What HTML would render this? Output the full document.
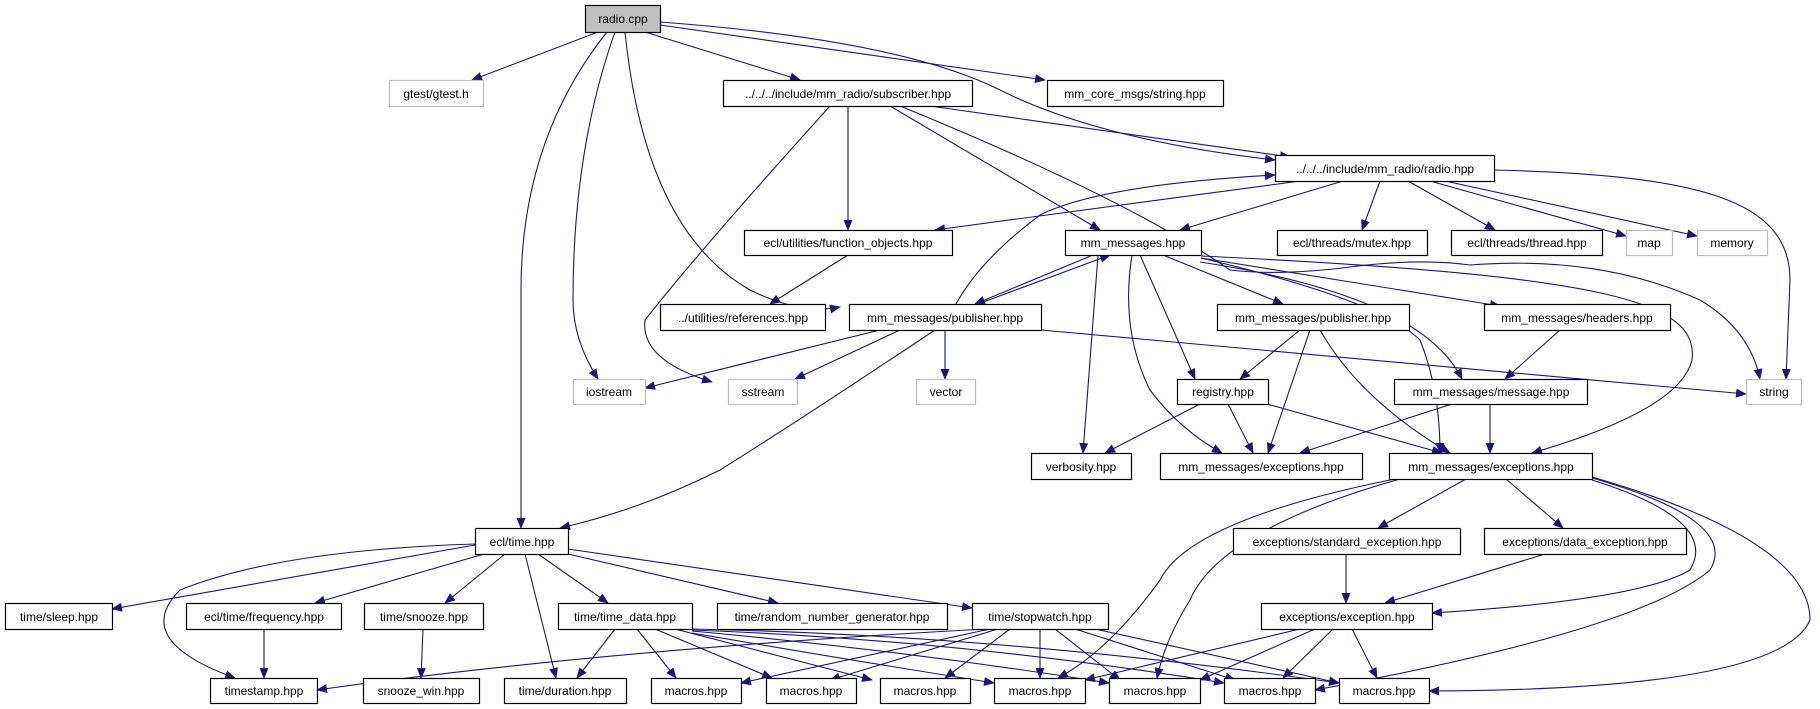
<!DOCTYPE html>
<html><head><meta charset="utf-8"><style>
html,body{margin:0;padding:0;background:#fff;}
svg{display:block;}
text{font-family:"Liberation Sans",Arial,sans-serif;font-size:12px;fill:#000;}
</style></head><body>
<svg width="1820" height="709" viewBox="0 0 1820 709" xmlns="http://www.w3.org/2000/svg">
<defs>
<marker id="a" markerWidth="11" markerHeight="9" refX="10" refY="4.5" orient="auto" markerUnits="userSpaceOnUse">
<path d="M0,0 L11,4.5 L0,9 z" fill="#191970"/>
</marker>
</defs>
<g fill="none" stroke="#191970" stroke-width="1.1" marker-end="url(#a)">
<!-- radio.cpp -->
<path d="M598,32 L472,80"/>
<path d="M645,32 L800,80"/>
<path d="M660,25 L1045,80"/>
<path d="M660,22 Q900,40 1000,90 Q1100,140 1275,160"/>
<path d="M607,32 Q521,140 521,290 L521,528"/>
<path d="M615,32 Q573,150 573,300 Q573,340 598,379"/>
<path d="M625,32 Q645,230 750,290 Q800,315 840,307"/>
<!-- subscriber -->
<path d="M848,106 L848,230"/>
<path d="M890,106 L1100,230"/>
<path d="M930,106 L1290,157"/>
<path d="M830,106 Q700,250 645,320 Q640,360 712,382"/>
<path d="M900,106 Q1130,200 1230,270 Q1280,276 1350,267 Q1420,258 1470,265 Q1600,255 1700,300 Q1750,330 1760,379"/>
<!-- radio.hpp -->
<path d="M1300,181 L935,230"/>
<path d="M1343,181 L1180,230"/>
<path d="M1380,181 L1362,230"/>
<path d="M1408,181 L1495,230"/>
<path d="M1430,181 L1626,236"/>
<path d="M1445,181 L1697,236"/>
<path d="M1494,170 C1700,175 1790,200 1790,280 L1786,379"/>
<!-- publisher left -->
<path d="M956,304 Q980,260 1040,215 Q1100,185 1275,175"/>
<path d="M978,304 L1110,255"/>
<path d="M1093,255 L975,304"/>
<path d="M880,330 L645,388"/>
<path d="M900,330 L795,379"/>
<path d="M945,330 L945,379"/>
<path d="M1041,330 L1746,394"/>
<path d="M935,330 Q800,420 720,470 Q640,510 560,528"/>
<path d="M848,255 L770,304"/>
<!-- mm_messages.hpp -->
<path d="M1098,255 L1083,453"/>
<path d="M1132,255 Q1120,330 1150,390 Q1180,430 1222,453"/>
<path d="M1140,255 L1195,379"/>
<path d="M1163,255 L1283,304"/>
<path d="M1201,258 L1500,306"/>
<path d="M1200,262 Q1420,295 1462,379"/>
<path d="M1201,258 Q1380,300 1420,340 Q1440,390 1440,453"/>
<path d="M1201,256 C1600,275 1700,300 1692,360 Q1680,410 1532,453"/>
<!-- publisher right -->
<path d="M1300,330 L1240,379"/>
<path d="M1310,330 L1268,453"/>
<path d="M1320,330 Q1360,400 1450,453"/>
<!-- registry -->
<path d="M1200,404 L1105,453"/>
<path d="M1228,404 L1253,453"/>
<path d="M1267,404 L1442,453"/>
<!-- message -->
<path d="M1452,404 L1300,453"/>
<path d="M1490,404 L1490,453"/>
<path d="M1560,330 L1505,379"/>
<!-- exceptions2 -->
<path d="M1466,479 L1378,528"/>
<path d="M1506,479 L1563,528"/>
<path d="M1592,480 Q1720,520 1690,570 Q1640,600 1432,613"/>
<path d="M1592,478 Q1740,520 1710,570 Q1640,630 1315,690"/>
<path d="M1592,477 Q1810,540 1810,620 Q1780,690 1429,691"/>
<path d="M1395,479 Q1190,520 1160,580 Q1110,650 1058,678"/>
<path d="M1400,479 Q1220,530 1190,600 Q1165,640 1157,678"/>
<!-- exception chain -->
<path d="M1346,554 L1346,603"/>
<path d="M1545,554 L1385,603"/>
<path d="M1300,629 L1085,680"/>
<path d="M1315,629 L1200,680"/>
<path d="M1333,629 L1283,678"/>
<path d="M1352,629 L1377,678"/>
<!-- ecl/time -->
<path d="M475,545 L112,609"/>
<path d="M484,554 L315,603"/>
<path d="M505,554 L445,603"/>
<path d="M538,554 L608,603"/>
<path d="M568,554 L778,603"/>
<path d="M568,549 L972,608"/>
<path d="M475,544 Q280,550 180,590 Q130,640 235,678"/>
<path d="M525,554 L556,678"/>
<path d="M264,629 L264,678"/>
<path d="M423,629 L421,678"/>
<!-- time_data -->
<path d="M615,629 L577,678"/>
<path d="M637,629 L676,678"/>
<path d="M655,629 L772,678"/>
<path d="M675,629 L872,680"/>
<path d="M692,633 Q850,660 994,683"/>
<path d="M692,631 Q900,650 1109,683"/>
<path d="M692,630 Q960,640 1224,683"/>
<path d="M692,629 Q1000,635 1339,683"/>
<!-- stopwatch -->
<path d="M985,629 Q600,650 317,690"/>
<path d="M990,629 L741,683"/>
<path d="M998,629 L830,680"/>
<path d="M1010,629 L945,678"/>
<path d="M1040,629 L1040,678"/>
<path d="M1055,629 L1120,680"/>
<path d="M1075,629 L1235,680"/>
<path d="M1095,629 L1339,683"/>
</g>
<g stroke-width="1.2">
<rect x="585.5" y="5.5" width="75" height="27" fill="#bfbfbf" stroke="#000"/>
<rect x="389.5" y="80.5" width="94" height="26" fill="#fff" stroke="#bfbfbf"/>
<rect x="723.5" y="80.5" width="249" height="26" fill="#fff" stroke="#000"/>
<rect x="1047.5" y="80.5" width="176" height="26" fill="#fff" stroke="#000"/>
<rect x="1275.5" y="155.5" width="219" height="26" fill="#fff" stroke="#000"/>
<rect x="744.5" y="230.5" width="208" height="25" fill="#fff" stroke="#000"/>
<rect x="1065.5" y="230.5" width="136" height="25" fill="#fff" stroke="#000"/>
<rect x="1277.5" y="230.5" width="150" height="25" fill="#fff" stroke="#000"/>
<rect x="1451.5" y="230.5" width="151" height="25" fill="#fff" stroke="#000"/>
<rect x="1626.5" y="230.5" width="46" height="25" fill="#fff" stroke="#bfbfbf"/>
<rect x="1697.5" y="230.5" width="70" height="25" fill="#fff" stroke="#bfbfbf"/>
<rect x="660.5" y="304.5" width="165" height="26" fill="#fff" stroke="#000"/>
<rect x="849.5" y="304.5" width="192" height="26" fill="#fff" stroke="#000"/>
<rect x="1217.5" y="304.5" width="192" height="26" fill="#fff" stroke="#000"/>
<rect x="1484.5" y="304.5" width="186" height="26" fill="#fff" stroke="#000"/>
<rect x="573.5" y="379.5" width="72" height="25" fill="#fff" stroke="#bfbfbf"/>
<rect x="728.5" y="379.5" width="69" height="25" fill="#fff" stroke="#bfbfbf"/>
<rect x="916.5" y="379.5" width="59" height="25" fill="#fff" stroke="#bfbfbf"/>
<rect x="1177.5" y="379.5" width="91" height="25" fill="#fff" stroke="#000"/>
<rect x="1394.5" y="379.5" width="193" height="25" fill="#fff" stroke="#000"/>
<rect x="1746.5" y="379.5" width="55" height="25" fill="#fff" stroke="#bfbfbf"/>
<rect x="1031.5" y="453.5" width="100" height="26" fill="#fff" stroke="#000"/>
<rect x="1160.5" y="453.5" width="202" height="26" fill="#fff" stroke="#000"/>
<rect x="1389.5" y="453.5" width="203" height="26" fill="#fff" stroke="#000"/>
<rect x="475.5" y="528.5" width="93" height="26" fill="#fff" stroke="#000"/>
<rect x="1233.5" y="528.5" width="227" height="26" fill="#fff" stroke="#000"/>
<rect x="1484.5" y="528.5" width="202" height="26" fill="#fff" stroke="#000"/>
<rect x="5.5" y="603.5" width="107" height="26" fill="#fff" stroke="#000"/>
<rect x="186.5" y="603.5" width="155" height="26" fill="#fff" stroke="#000"/>
<rect x="364.5" y="603.5" width="119" height="26" fill="#fff" stroke="#000"/>
<rect x="558.5" y="603.5" width="134" height="26" fill="#fff" stroke="#000"/>
<rect x="717.5" y="603.5" width="230" height="26" fill="#fff" stroke="#000"/>
<rect x="972.5" y="603.5" width="136" height="26" fill="#fff" stroke="#000"/>
<rect x="1261.5" y="603.5" width="171" height="26" fill="#fff" stroke="#000"/>
<rect x="210.5" y="678.5" width="107" height="25" fill="#fff" stroke="#000"/>
<rect x="363.5" y="678.5" width="116" height="25" fill="#fff" stroke="#000"/>
<rect x="504.5" y="678.5" width="122" height="25" fill="#fff" stroke="#000"/>
<rect x="651.5" y="678.5" width="90" height="25" fill="#fff" stroke="#000"/>
<rect x="766.5" y="678.5" width="90" height="25" fill="#fff" stroke="#000"/>
<rect x="880.5" y="678.5" width="90" height="25" fill="#fff" stroke="#000"/>
<rect x="994.5" y="678.5" width="91" height="25" fill="#fff" stroke="#000"/>
<rect x="1109.5" y="678.5" width="91" height="25" fill="#fff" stroke="#000"/>
<rect x="1224.5" y="678.5" width="91" height="25" fill="#fff" stroke="#000"/>
<rect x="1339.5" y="678.5" width="90" height="25" fill="#fff" stroke="#000"/>
</g>
<g text-anchor="middle">
<text x="623" y="23">radio.cpp</text>
<text x="436" y="98">gtest/gtest.h</text>
<text x="848" y="98">../../../include/mm_radio/subscriber.hpp</text>
<text x="1135" y="98">mm_core_msgs/string.hpp</text>
<text x="1385" y="173">../../../include/mm_radio/radio.hpp</text>
<text x="848" y="247">ecl/utilities/function_objects.hpp</text>
<text x="1133" y="247">mm_messages.hpp</text>
<text x="1352" y="247">ecl/threads/mutex.hpp</text>
<text x="1527" y="247">ecl/threads/thread.hpp</text>
<text x="1649" y="247">map</text>
<text x="1732" y="247">memory</text>
<text x="743" y="322">../utilities/references.hpp</text>
<text x="945" y="322">mm_messages/publisher.hpp</text>
<text x="1313" y="322">mm_messages/publisher.hpp</text>
<text x="1577" y="322">mm_messages/headers.hpp</text>
<text x="609" y="396">iostream</text>
<text x="763" y="396">sstream</text>
<text x="946" y="396">vector</text>
<text x="1223" y="396">registry.hpp</text>
<text x="1491" y="396">mm_messages/message.hpp</text>
<text x="1774" y="396">string</text>
<text x="1081" y="471">verbosity.hpp</text>
<text x="1261" y="471">mm_messages/exceptions.hpp</text>
<text x="1491" y="471">mm_messages/exceptions.hpp</text>
<text x="522" y="546">ecl/time.hpp</text>
<text x="1347" y="546">exceptions/standard_exception.hpp</text>
<text x="1585" y="546">exceptions/data_exception.hpp</text>
<text x="59" y="621">time/sleep.hpp</text>
<text x="264" y="621">ecl/time/frequency.hpp</text>
<text x="424" y="621">time/snooze.hpp</text>
<text x="625" y="621">time/time_data.hpp</text>
<text x="832" y="621">time/random_number_generator.hpp</text>
<text x="1040" y="621">time/stopwatch.hpp</text>
<text x="1347" y="621">exceptions/exception.hpp</text>
<text x="264" y="695">timestamp.hpp</text>
<text x="421" y="695">snooze_win.hpp</text>
<text x="565" y="695">time/duration.hpp</text>
<text x="696" y="695">macros.hpp</text>
<text x="811" y="695">macros.hpp</text>
<text x="925" y="695">macros.hpp</text>
<text x="1040" y="695">macros.hpp</text>
<text x="1155" y="695">macros.hpp</text>
<text x="1270" y="695">macros.hpp</text>
<text x="1384" y="695">macros.hpp</text>
</g>
</svg>
</body></html>
